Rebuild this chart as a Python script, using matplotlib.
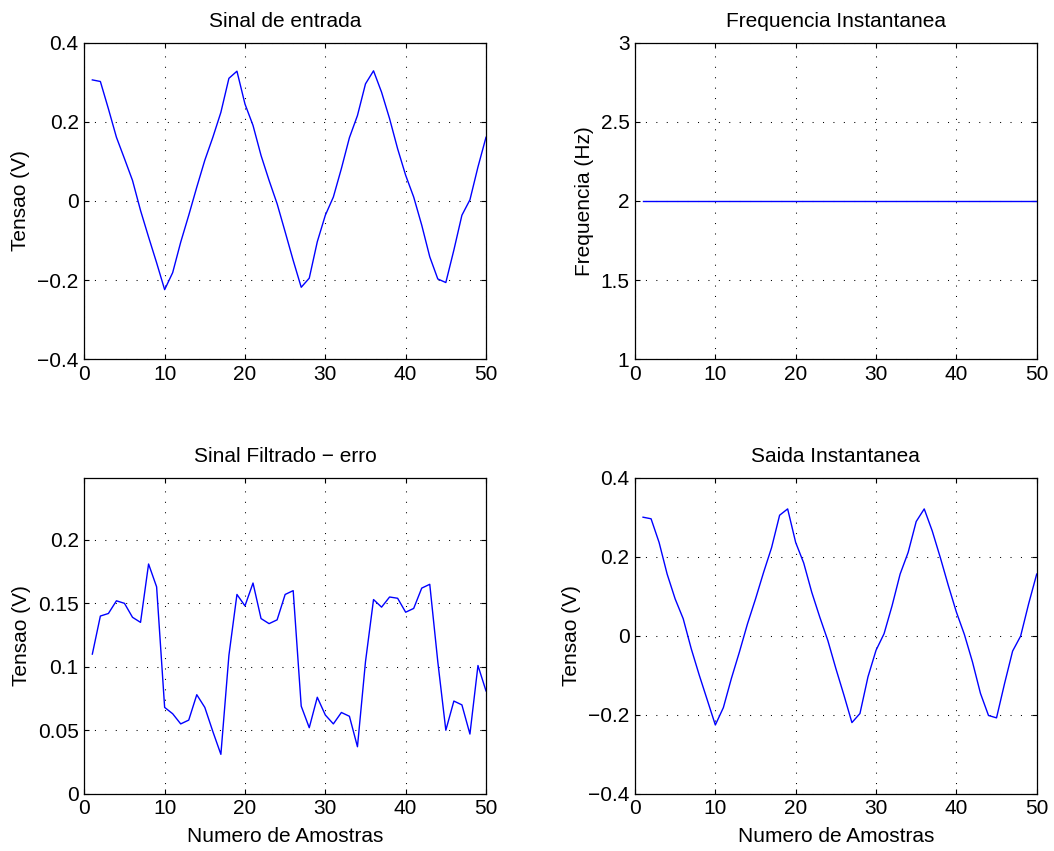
import numpy as np
import matplotlib
matplotlib.use("Agg")
import matplotlib.pyplot as plt
from matplotlib.ticker import FuncFormatter

plt.rcParams['font.family'] = ['Liberation Sans', 'DejaVu Sans']

amostras = list(range(1, 51))

entrada = [0.306, 0.302, 0.233, 0.161, 0.107, 0.052, -0.024, -0.091, -0.156, -0.224,
           -0.181, -0.104, -0.036, 0.035, 0.103, 0.161, 0.224, 0.310, 0.328, 0.245,
           0.191, 0.115, 0.052, -0.007, -0.078, -0.150, -0.218, -0.195, -0.103, -0.036,
           0.010, 0.082, 0.160, 0.216, 0.296, 0.329, 0.275, 0.208, 0.132, 0.065,
           0.010, -0.061, -0.141, -0.197, -0.206, -0.124, -0.036, 0.003, 0.086, 0.161]

frequencia = [2.0] * 50

erro = [0.110, 0.140, 0.142, 0.152, 0.150, 0.139, 0.135, 0.181, 0.163, 0.068,
        0.063, 0.055, 0.058, 0.078, 0.068, 0.049, 0.031, 0.109, 0.157, 0.148,
        0.166, 0.138, 0.134, 0.137, 0.157, 0.160, 0.069, 0.052, 0.076, 0.062,
        0.055, 0.064, 0.061, 0.037, 0.104, 0.153, 0.147, 0.155, 0.154, 0.143,
        0.146, 0.162, 0.165, 0.104, 0.050, 0.073, 0.070, 0.047, 0.101, 0.081]

saida = [0.300, 0.296, 0.236, 0.156, 0.093, 0.043, -0.033, -0.100, -0.163, -0.226,
         -0.182, -0.108, -0.041, 0.030, 0.093, 0.160, 0.223, 0.305, 0.321, 0.236,
         0.184, 0.110, 0.047, -0.012, -0.083, -0.150, -0.220, -0.197, -0.104, -0.037,
         0.005, 0.076, 0.156, 0.211, 0.289, 0.321, 0.265, 0.198, 0.127, 0.060,
         0.003, -0.066, -0.146, -0.202, -0.208, -0.121, -0.039, -0.001, 0.081, 0.156]

x_ticks = [0, 10, 20, 30, 40, 50]

fig = plt.figure(figsize=(10.54, 8.51), dpi=100)
W, H = 1054, 851

def make_ax(l, r, t, b):
    return fig.add_axes([l / W, 1 - b / H, (r - l) / W, (b - t) / H])

ax1 = make_ax(84.3, 486, 42.7, 359.3)
ax2 = make_ax(635, 1036.7, 42.7, 359.3)
ax3 = make_ax(84.3, 486, 477.7, 793.7)
ax4 = make_ax(635, 1036.7, 477.7, 793.7)

fmt = FuncFormatter(lambda v, p: ('%g' % v).replace('-', '\u2212'))
FS = 15

def style(ax, yt, ylim, title, ylabel, xlabel=None):
    ax.set_xlim(0, 50)
    ax.set_ylim(*ylim)
    ax.set_xticks(x_ticks)
    ax.set_yticks(yt)
    ax.xaxis.set_major_formatter(fmt)
    ax.yaxis.set_major_formatter(fmt)
    ax.tick_params(direction='in', top=True, right=True, labelsize=FS, length=3.5,
                   width=0.8, pad=4)
    ax.grid(True, linestyle=(0, (1, 9)), color='black', linewidth=0.75)
    for s in ax.spines.values():
        s.set_linewidth(0.9)
    ax.set_title(title, fontsize=FS, pad=11)
    ax.set_ylabel(ylabel, fontsize=FS, labelpad=5)
    if xlabel:
        ax.set_xlabel(xlabel, fontsize=FS, labelpad=6)

ax1.plot(amostras, entrada, color='#0000ff', linewidth=1.0)
style(ax1, [-0.4, -0.2, 0, 0.2, 0.4], (-0.4, 0.4), 'Sinal de entrada', 'Tensao (V)')

ax2.plot(amostras, frequencia, color='#0000ff', linewidth=1.0)
style(ax2, [1, 1.5, 2, 2.5, 3], (1, 3), 'Frequencia Instantanea', 'Frequencia (Hz)')

ax3.plot(amostras, erro, color='#0000ff', linewidth=1.0)
style(ax3, [0, 0.05, 0.1, 0.15, 0.2], (0, 0.249), 'Sinal Filtrado \u2212 erro', 'Tensao (V)',
      'Numero de Amostras')

ax4.plot(amostras, saida, color='#0000ff', linewidth=1.0)
style(ax4, [-0.4, -0.2, 0, 0.2, 0.4], (-0.4, 0.4), 'Saida Instantanea', 'Tensao (V)',
      'Numero de Amostras')

fig.savefig('out.png', dpi=100)
